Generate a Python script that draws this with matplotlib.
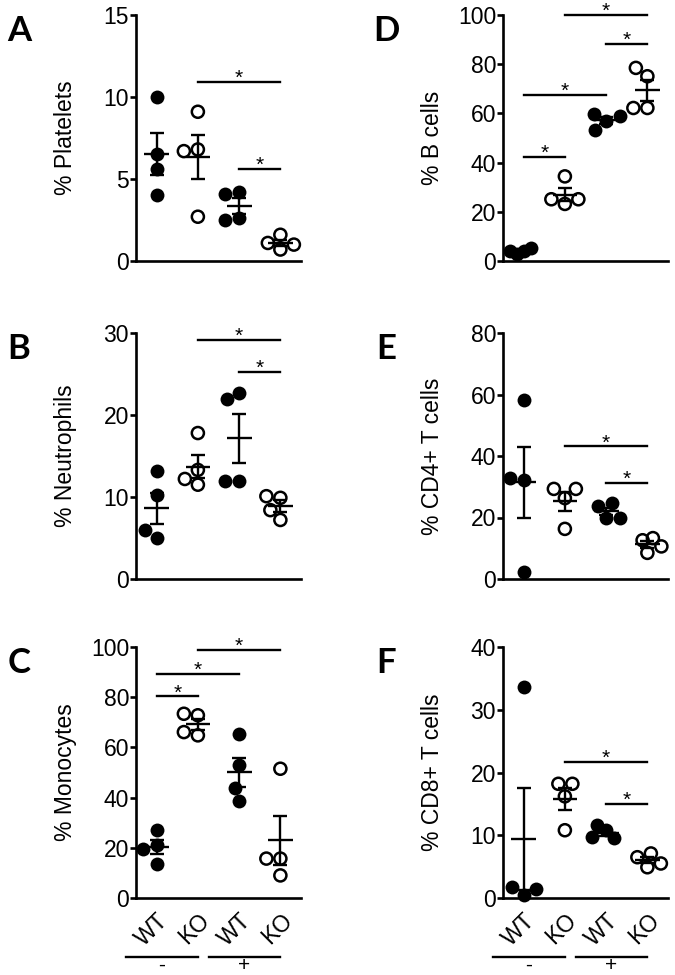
import matplotlib
matplotlib.use('Agg')
import matplotlib.pyplot as plt
import numpy as np
from matplotlib.transforms import blended_transform_factory

plt.rcParams['font.family'] = ['Liberation Sans', 'DejaVu Sans']

# ---------------- data ----------------
groups = ['WT', 'KO', 'WT', 'KO']
treatments = ['-', '+']
filled = [True, False, True, False]

platelets = [[10.0, 5.6, 4.0, 6.5], [9.1, 6.8, 6.7, 2.7],
             [4.2, 4.1, 2.6, 2.5], [0.7, 1.1, 1.0, 1.6]]
neutrophils = [[13.2, 10.3, 5.0, 6.0], [17.8, 11.5, 13.3, 12.2],
               [22.7, 21.9, 12.0, 12.0], [7.2, 9.9, 10.1, 8.4]]
monocytes = [[27.2, 13.7, 21.0, 19.7], [64.8, 72.8, 73.4, 66.1],
             [65.2, 52.9, 38.5, 43.8], [51.5, 9.0, 15.7, 15.7]]
b_cells = [[4.2, 2.8, 5.2, 4.0], [34.4, 23.2, 25.1, 25.1],
           [56.8, 53.4, 58.8, 59.8], [62.2, 62.2, 75.1, 78.5]]
cd4_t = [[58.3, 2.3, 32.3, 32.8], [16.3, 26.3, 29.3, 29.3],
         [19.8, 23.6, 24.7, 19.8], [8.5, 12.6, 13.3, 10.6]]
cd8_t = [[33.7, 0.4, 1.75, 1.5], [10.8, 16.2, 18.2, 18.2],
         [10.8, 11.6, 9.5, 9.7], [4.9, 6.5, 7.1, 5.5]]

# significance comparisons: (group a, group b, bar level)
sig_a = [(1, 3, 10.9), (2, 3, 5.6)]
sig_b = [(1, 3, 29.2), (2, 3, 25.3)]
sig_c = [(0, 1, 80.3), (0, 2, 89.4), (1, 3, 98.9)]
sig_d = [(0, 1, 42.3), (0, 2, 67.4), (1, 3, 100.0), (2, 3, 88.3)]
sig_e = [(1, 3, 43.1), (2, 3, 31.2)]
sig_f = [(1, 3, 21.7), (2, 3, 15.0)]

panels = [
    ('A', '% Platelets', platelets, [0, 5, 10, 15], sig_a, 0, 0),
    ('B', '% Neutrophils', neutrophils, [0, 10, 20, 30], sig_b, 1, 0),
    ('C', '% Monocytes', monocytes, [0, 20, 40, 60, 80, 100], sig_c, 2, 0),
    ('D', '% B cells', b_cells, [0, 20, 40, 60, 80, 100], sig_d, 0, 1),
    ('E', '% CD4+ T cells', cd4_t, [0, 20, 40, 60, 80], sig_e, 1, 1),
    ('F', '% CD8+ T cells', cd8_t, [0, 10, 20, 30, 40], sig_f, 2, 1),
]

# ---------------- layout ----------------
W, H = 675, 975
fig = plt.figure(figsize=(W / 100, H / 100), dpi=100)
col_left = [136, 503]
col_w = 165
row_top = [15, 333, 647]
row_bot = [261, 579, 898]

MARK_D = 14.0   # marker diameter, px
MAX_SPREAD = 14.0


def swarm(vals, ppu_y, d):
    """simple beeswarm: smallest horizontal shift (px) avoiding overlap"""
    placed, offs = [], []
    cands = [0.0]
    for n in range(1, 200):
        cands += [-0.5 * n, 0.5 * n]
    for v in vals:
        y = v * ppu_y
        for c in cands:
            if all((c - px) ** 2 + (y - py) ** 2 >= d ** 2 - 1e-6 for px, py in placed):
                break
        placed.append((c, y))
        offs.append(c)
    offs = np.array(offs)
    m = np.abs(offs).max()
    if m > MAX_SPREAD:
        offs = offs * MAX_SPREAD / m
    return offs


for letter, ylabel, data, yticks, sigs, r, c in panels:
    x0 = col_left[c]
    ax = fig.add_axes([x0 / W, 1 - row_bot[r] / H, col_w / W, (row_bot[r] - row_top[r]) / H])
    ymax = yticks[-1]
    ax.set_xlim(-0.5, 3.5)
    ax.set_ylim(0, ymax)
    ppu_x = col_w / 4.0
    ppu_y = (row_bot[r] - row_top[r]) / ymax

    for gi, vals in enumerate(data):
        vals = np.array(vals, dtype=float)
        offs = swarm(vals, ppu_y, MARK_D) / ppu_x
        xs = gi + offs
        if filled[gi]:
            ax.scatter(xs, vals, s=10.0 ** 2, facecolor='black', edgecolor='black',
                       linewidth=0, zorder=3, clip_on=False)
        else:
            ax.scatter(xs, vals, s=8.7 ** 2, facecolor='none', edgecolor='black',
                       linewidth=1.8, zorder=3, clip_on=False)
        m = vals.mean()
        sem = vals.std(ddof=1) / np.sqrt(len(vals))
        ax.hlines(m, gi - 0.3, gi + 0.3, color='black', lw=1.7, zorder=4)
        ax.errorbar([gi], [m], yerr=[sem], fmt='none', ecolor='black',
                    elinewidth=1.7, capsize=5, capthick=1.7, zorder=4)

    for a, b, lvl in sigs:
        ax.plot([a, b], [lvl, lvl], color='black', lw=1.7, clip_on=False)
        ax.annotate('*', xy=((a + b) / 2, lvl), xytext=(0, -1.5), textcoords='offset points',
                    ha='center', va='baseline', fontsize=15, annotation_clip=False)

    ax.spines['top'].set_visible(False)
    ax.spines['right'].set_visible(False)
    ax.spines['left'].set_linewidth(1.9)
    ax.spines['bottom'].set_linewidth(1.9)
    ax.set_yticks(yticks)
    ax.tick_params(axis='y', length=4, width=1.9, pad=1, labelsize=16.5)
    ax.set_ylabel(ylabel, fontsize=16.5)
    ax.yaxis.set_label_coords(-0.355, 0.5)

    if r == 2:
        ax.set_xticks(range(4))
        ax.set_xticklabels(groups, rotation=45, ha='right', va='top',
                           rotation_mode='anchor', fontsize=16.5)
        ax.tick_params(axis='x', length=0, pad=8)
        tr = blended_transform_factory(ax.transData, ax.transAxes)
        hb = (row_bot[r] - row_top[r])
        yline = (row_bot[r] - 957) / hb
        ytxt = (row_bot[r] - 971) / hb
        for (s, e), lab in zip([(-0.74, 1.0), (1.27, 2.98)], treatments):
            ax.plot([s, e], [yline, yline], color='black', lw=1.7, transform=tr, clip_on=False)
            ax.text((s + e) / 2, ytxt, lab, transform=tr, ha='center', va='baseline',
                    fontsize=15)
    else:
        ax.set_xticks([])

    fig.text((x0 - 117) / W, 1 - (row_top[r] + 16) / H, letter,
             fontsize=25, fontweight='bold', family=['Lato', 'DejaVu Sans'],
             ha='center', va='center')

fig.savefig('out.png', dpi=100)
